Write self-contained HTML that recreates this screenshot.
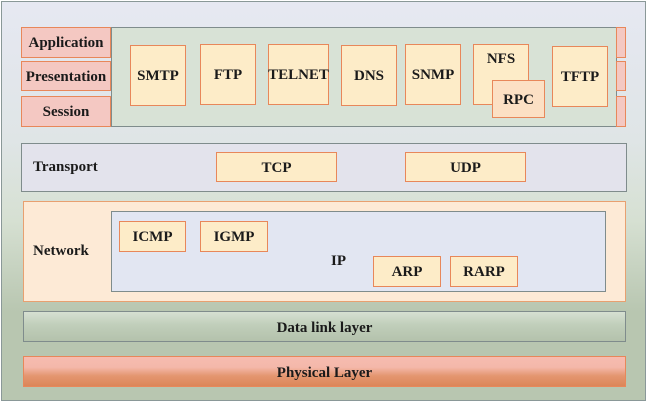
<!DOCTYPE html>
<html><head><style>
*{margin:0;padding:0;box-sizing:border-box}
body{width:648px;height:402px;position:relative;overflow:hidden;background:#fff;font-family:"Liberation Serif",serif;font-weight:bold;color:#1a1a1a;font-size:15px}
div{position:absolute}
.o{border:1.5px solid #e8875a;background:#fdecc8;display:flex;align-items:center;justify-content:center;padding-top:2px}
.p{border:1.5px solid #e8875a;background:#f4c8c2;display:flex;align-items:center;justify-content:center;padding-top:2px}
.t{white-space:nowrap}
</style></head><body>
<div style="left:1px;top:1px;width:645px;height:400px;border:1.5px solid #8a9898;background:linear-gradient(#e6e8f2 0%,#dfe5e6 35%,#d6e0d2 55%,#b8c6b0 78%,#b8c6b0 100%)"></div>
<div style="left:111px;top:27px;width:506px;height:100px;border:1.5px solid #7f8c8c;background:#d8e2d6"></div>
<div class="p" style="left:21px;top:27px;width:90px;height:31px">Application</div>
<div class="p" style="left:21px;top:61px;width:90px;height:30px">Presentation</div>
<div class="p" style="left:21px;top:96px;width:90px;height:31px">Session</div>
<div class="p" style="left:616px;top:27px;width:10px;height:31px"></div>
<div class="p" style="left:616px;top:61px;width:10px;height:30px"></div>
<div class="p" style="left:616px;top:96px;width:10px;height:31px"></div>
<div class="o" style="left:130px;top:45px;width:56px;height:61px">SMTP</div>
<div class="o" style="left:200px;top:44px;width:56px;height:61px">FTP</div>
<div class="o" style="left:268px;top:44px;width:61px;height:61px">TELNET</div>
<div class="o" style="left:341px;top:45px;width:56px;height:61px">DNS</div>
<div class="o" style="left:405px;top:44px;width:56px;height:61px">SNMP</div>
<div class="o" style="left:473px;top:44px;width:56px;height:61px;align-items:flex-start;padding-top:6px">NFS</div>
<div class="o" style="left:492px;top:80px;width:53px;height:38px;background:#fce0c4">RPC</div>
<div class="o" style="left:552px;top:46px;width:56px;height:61px">TFTP</div>
<div style="left:21px;top:143px;width:606px;height:49px;border:1.5px solid #7f8c8c;background:#e3e3ec"></div>
<div class="t" style="left:33px;top:159px">Transport</div>
<div class="o" style="left:216px;top:152px;width:121px;height:30px">TCP</div>
<div class="o" style="left:405px;top:152px;width:121px;height:30px">UDP</div>
<div style="left:23px;top:201px;width:603px;height:101px;border:1.5px solid #e8a070;background:#fdead6"></div>
<div class="t" style="left:33px;top:243px">Network</div>
<div style="left:111px;top:211px;width:495px;height:81px;border:1.5px solid #7f8c8c;background:#e2e6f2"></div>
<div class="o" style="left:119px;top:221px;width:67px;height:31px">ICMP</div>
<div class="o" style="left:200px;top:221px;width:68px;height:31px">IGMP</div>
<div class="t" style="left:331px;top:253px">IP</div>
<div class="o" style="left:373px;top:256px;width:68px;height:31px">ARP</div>
<div class="o" style="left:450px;top:256px;width:68px;height:31px">RARP</div>
<div style="left:23px;top:311px;width:603px;height:31px;border:1.5px solid #7f8c8c;background:linear-gradient(#d6e0d2 0%,#c0ceba 45%,#b4c2ac 100%);display:flex;align-items:center;justify-content:center;padding-top:3px">Data link layer</div>
<div style="left:23px;top:356px;width:603px;height:31px;border:1.5px solid #e8875a;background:linear-gradient(#f6bcb0 0%,#f4b8aa 35%,#e49670 65%,#dc8658 100%);display:flex;align-items:center;justify-content:center;padding-top:3px">Physical Layer</div>
</body></html>
